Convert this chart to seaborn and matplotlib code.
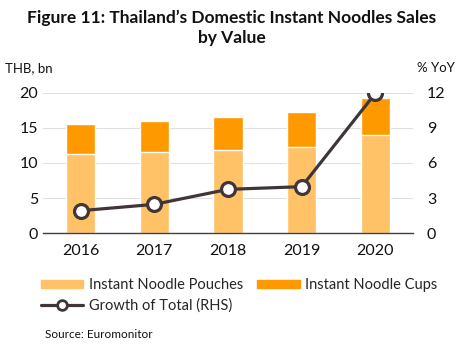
import matplotlib
matplotlib.use('Agg')
import matplotlib.pyplot as plt
import seaborn as sns
import pandas as pd
from matplotlib.lines import Line2D
from matplotlib.patches import Patch

years = ['2016', '2017', '2018', '2019', '2020']
pouches = [11.3, 11.6, 11.9, 12.3, 14.0]
cups = [4.25, 4.35, 4.65, 4.95, 5.25]
growth = [1.93, 2.47, 3.75, 3.98, 11.95]

pouch_color = '#FFC266'
cup_color = '#FF9900'
line_color = '#403638'

sns.set_theme(style='white')
plt.rcParams['font.family'] = ['Lato', 'DejaVu Sans']

df = pd.DataFrame({'year': years, 'pouches': pouches, 'cups': cups, 'growth': growth})
df['total'] = df['pouches'] + df['cups']

fig = plt.figure(figsize=(4.63, 3.51), dpi=100)
ax = fig.add_axes([43 / 463, 1 - 233.3 / 351, 370 / 463, 140.6 / 351])

# stacked bars: draw total first, pouches on top of it
sns.barplot(data=df, x='year', y='total', color=cup_color, width=0.4,
            saturation=1, ax=ax)
sns.barplot(data=df, x='year', y='pouches', color=pouch_color, width=0.4,
            saturation=1, ax=ax)

ax.set_ylim(0, 20)
ax.set_yticks([0, 5, 10, 15, 20])
ax.set_xlim(-0.51, 4.51)
ax.yaxis.grid(True, color='#E0E0E0', linewidth=0.8)
ax.set_axisbelow(True)
for s in ['top', 'right', 'left']:
    ax.spines[s].set_visible(False)
ax.spines['bottom'].set_color('#404040')
ax.spines['bottom'].set_linewidth(1.0)
ax.set_xlabel('')
ax.set_ylabel('')
ax.tick_params(axis='both', length=0, labelsize=11.5, colors='#111111')
ax.tick_params(axis='x', pad=8)

ax2 = ax.twinx()
ax2.plot(range(len(years)), growth, color=line_color, linewidth=2.3,
         marker='o', markersize=10, markerfacecolor='white',
         markeredgecolor=line_color, markeredgewidth=2.3, zorder=5)
ax2.set_ylim(0, 12)
ax2.set_yticks([0, 3, 6, 9, 12])
for s in ['top', 'right', 'left', 'bottom']:
    ax2.spines[s].set_visible(False)
ax2.tick_params(axis='y', length=0, labelsize=11.5, colors='#111111', pad=10)
ax2.set_ylabel('')

fig.text(0.50, 1 - 18 / 351, 'Figure 11: Thailand\u2019s Domestic Instant Noodles Sales',
         ha='center', va='center', fontsize=12.5, fontweight='bold', color='#111111')
fig.text(0.50, 1 - 38 / 351, 'by Value', ha='center', va='center',
         fontsize=12.5, fontweight='bold', color='#111111')
fig.text(5 / 463, 1 - 68 / 351, 'THB, bn', ha='left', va='center', fontsize=9.5, color='#111111')
fig.text(455 / 463, 1 - 68 / 351, '% YoY', ha='right', va='center', fontsize=9.5, color='#111111')

# column-major order so the two patches sit on the first row
handles = [Patch(color=pouch_color, label='Instant Noodle Pouches'),
           Line2D([0], [0], color=line_color, linewidth=2.3, marker='o', markersize=7,
                  markerfacecolor='white', markeredgecolor=line_color,
                  markeredgewidth=2, label='Growth of Total (RHS)'),
           Patch(color=cup_color, label='Instant Noodle Cups')]
leg = fig.legend(handles=handles, ncol=2, loc='upper left',
                 bbox_to_anchor=(28 / 463, 1 - 265 / 351), frameon=False,
                 fontsize=10.5, handlelength=2.9, handleheight=0.5,
                 columnspacing=1.0, handletextpad=0.35, labelspacing=0.4)

fig.text(45 / 463, 1 - 335 / 351, 'Source: Euromonitor', ha='left', va='center',
         fontsize=8.5, color='#111111')

fig.savefig('out.png', dpi=100, facecolor='white')
